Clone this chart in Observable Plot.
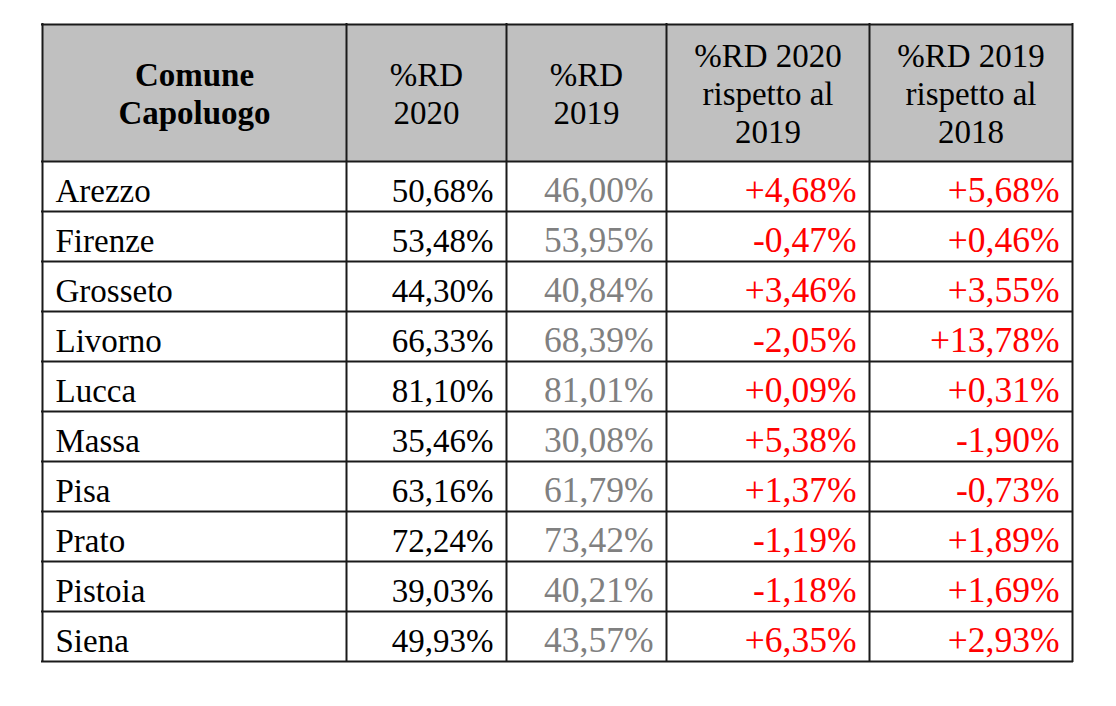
<!DOCTYPE html>
<html>
<head>
<meta charset="utf-8">
<script src="https://cdn.jsdelivr.net/npm/d3@7"></script>
<script src="https://cdn.jsdelivr.net/npm/@observablehq/plot@0.6"></script>
<style>
  html, body { margin: 0; padding: 0; background: #ffffff; }
  #chart svg { display: block; }
</style>
</head>
<body>
<div id="chart"></div>
<script>
// ---- data ----
const headers = ["Comune\nCapoluogo", "%RD\n2020", "%RD\n2019", "%RD 2020\nrispetto al\n2019", "%RD 2019\nrispetto al\n2018"];
const comuni = ["Arezzo", "Firenze", "Grosseto", "Livorno", "Lucca", "Massa", "Pisa", "Prato", "Pistoia", "Siena"];
const rd2020 = [50.68, 53.48, 44.30, 66.33, 81.10, 35.46, 63.16, 72.24, 39.03, 49.93];
const rd2019 = [46.00, 53.95, 40.84, 68.39, 81.01, 30.08, 61.79, 73.42, 40.21, 43.57];
const diff2020vs2019 = [4.68, -0.47, 3.46, -2.05, 0.09, 5.38, 1.37, -1.19, -1.18, 6.35];
const diff2019vs2018 = [5.68, 0.46, 3.55, 13.78, 0.31, -1.90, -0.73, 1.89, 1.69, 2.93];

// ---- layout ----
const W = 1116, H = 706;
const colEdges = [42, 346, 506, 666, 869, 1072];
const tableTop = 24, headerBottom = 161, rowH = 50;
const pad = 13;
const font = "'Liberation Serif', 'Times New Roman', Times, serif";

const fmt = v => v.toFixed(2).replace(".", ",") + "%";
const fmtSigned = v => (v > 0 ? "+" : "") + fmt(v);

const rowTop = i => headerBottom + i * rowH;
const baseline = i => rowTop(i) + 40;
const nRows = comuni.length;
const tableBottom = rowTop(nRows);

// header cells
const headerCells = headers.map((h, j) => {
  const n = h.split("\n").length;
  return {x: (colEdges[j] + colEdges[j + 1]) / 2, y: 104.5 + (n - 1) * 19, text: h, bold: j === 0};
});

// body cells
const nameCells = comuni.map((c, i) => ({x: colEdges[0] + pad, y: baseline(i), text: c}));
const blackCells = rd2020.map((v, i) => ({x: colEdges[2] - pad, y: baseline(i), text: fmt(v), color: "#000000"}));
const grayCells = rd2019.map((v, i) => ({x: colEdges[3] - pad, y: baseline(i), text: fmt(v), color: "#808080"}));
const redCells = [
  ...diff2020vs2019.map((v, i) => ({x: colEdges[4] - pad, y: baseline(i), text: fmtSigned(v), color: "#ff0000"})),
  ...diff2019vs2018.map((v, i) => ({x: colEdges[5] - pad, y: baseline(i), text: fmtSigned(v), color: "#ff0000"}))
];

const hLines = d3.range(nRows + 2).map(k => (k === 0 ? tableTop : rowTop(k - 1)));

const chart = Plot.plot({
  width: W,
  height: H,
  margin: 0,
  style: {background: "#ffffff", fontFamily: font},
  x: {type: "linear", domain: [0, W], range: [0, W], axis: null},
  y: {type: "linear", domain: [0, H], range: [0, H], axis: null},
  color: {type: "identity"},
  marks: [
    Plot.rect([{x1: colEdges[0], x2: colEdges[5], y1: tableTop, y2: headerBottom}], {
      x1: "x1", x2: "x2", y1: "y1", y2: "y2", fill: "#c0c0c0"
    }),
    Plot.ruleX(colEdges, {x: d => d, y1: tableTop - 1, y2: tableBottom + 1, stroke: "#1a1a1a", strokeWidth: 2}),
    Plot.ruleY(hLines, {y: d => d, x1: colEdges[0] - 1, x2: colEdges[5] + 1, stroke: "#1a1a1a", strokeWidth: 2}),
    Plot.text(headerCells.filter(d => d.bold), {
      x: "x", y: "y", text: "text", lineAnchor: "bottom", lineHeight: 1.15,
      fontSize: 33, fontWeight: "bold", fill: "#000000", fontFamily: font
    }),
    Plot.text(headerCells.filter(d => !d.bold), {
      x: "x", y: "y", text: "text", lineAnchor: "bottom", lineHeight: 1.15,
      fontSize: 33, fill: "#000000", fontFamily: font
    }),
    Plot.text(nameCells, {
      x: "x", y: "y", text: "text", textAnchor: "start", lineAnchor: "bottom",
      fontSize: 33, fill: "#000000", fontFamily: font
    }),
    Plot.text(blackCells, {
      x: "x", y: "y", text: "text", textAnchor: "end", lineAnchor: "bottom",
      fontSize: 33, fill: "color", fontFamily: font
    }),
    Plot.text(grayCells, {
      x: "x", y: "y", text: "text", textAnchor: "end", lineAnchor: "bottom",
      fontSize: 35.5, fill: "color", fontFamily: font
    }),
    Plot.text(redCells, {
      x: "x", y: "y", text: "text", textAnchor: "end", lineAnchor: "bottom",
      fontSize: 35.5, fill: "color", fontFamily: font
    })
  ]
});
document.getElementById("chart").appendChild(chart);
</script>
</body>
</html>
